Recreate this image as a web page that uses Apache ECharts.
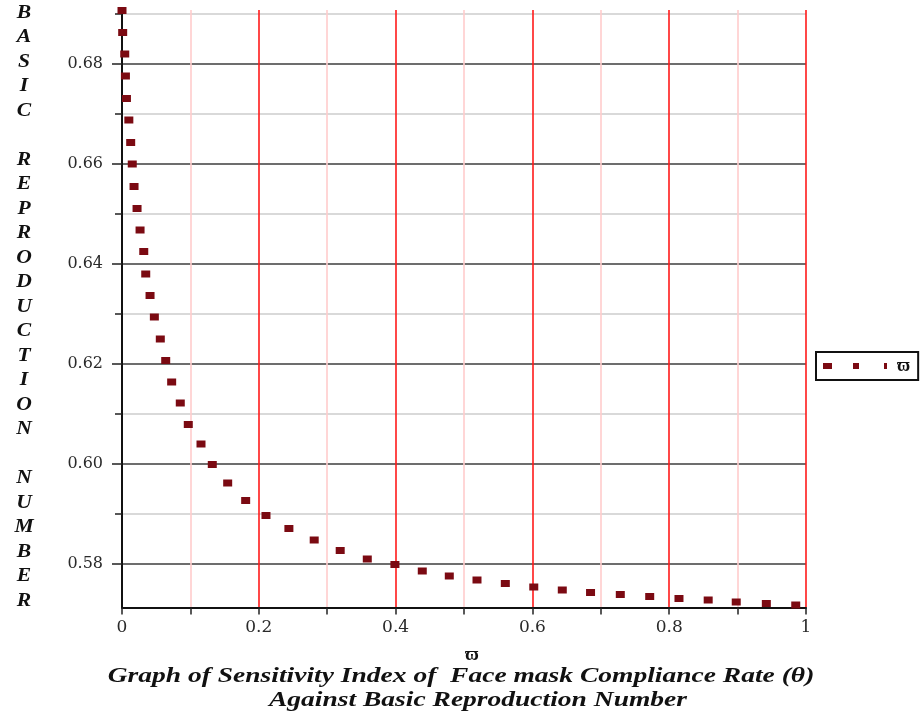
<!DOCTYPE html>
<html>
<head>
<meta charset="utf-8">
<script src="https://cdn.jsdelivr.net/npm/echarts@6/dist/echarts.min.js"></script>
<style>
html,body{margin:0;padding:0;background:#fff;}
#chart{width:924px;height:719px;}
</style>
</head>
<body>
<div id="chart"></div>
<script>
// Data
const omegaValues = [0, 0.001, 0.004, 0.005, 0.0065, 0.010, 0.0127, 0.015, 0.0176, 0.022,
  0.0264, 0.0318, 0.0347, 0.041, 0.0473, 0.056, 0.0639, 0.0726, 0.0852, 0.0969,
  0.1155, 0.132, 0.1545, 0.1808, 0.2105, 0.244, 0.281, 0.319, 0.3586, 0.399,
  0.439, 0.4785, 0.519, 0.5604, 0.602, 0.6437, 0.685, 0.7285, 0.7715, 0.8143,
  0.857, 0.898, 0.942, 0.985];
const r0Values = [0.6907, 0.6863, 0.6820, 0.6776, 0.6731, 0.6688, 0.6643, 0.6600, 0.6555, 0.6511,
  0.6468, 0.6425, 0.6380, 0.6337, 0.6294, 0.6250, 0.6207, 0.6164, 0.6122, 0.6079,
  0.6040, 0.5999, 0.5962, 0.5927, 0.5897, 0.5871, 0.5848, 0.5827, 0.5810, 0.5799,
  0.5786, 0.5776, 0.5768, 0.5761, 0.5754, 0.5748, 0.5743, 0.5739, 0.5735, 0.5731,
  0.5728, 0.5724, 0.5721, 0.5718];
const yMajorTicks = [0.58, 0.60, 0.62, 0.64, 0.66, 0.68];
const yMinorTicks = [0.59, 0.61, 0.63, 0.65, 0.67, 0.69];
const seriesName = 'ϖ';
const yTitle = 'B\nA\nS\nI\nC\n\nR\nE\nP\nR\nO\nD\nU\nC\nT\nI\nO\nN\n\nN\nU\nM\nB\nE\nR';
const titleLine1 = 'Graph of Sensitivity Index of  Face mask Compliance Rate (θ)';
const titleLine2 = 'Against Basic Reproduction Number';

const yMin = 0.5713, yMax = 0.6908;
const serif = '"Liberation Serif", "DejaVu Serif", serif';
const wideSerif = '"DejaVu Serif", serif';

const chart = echarts.init(document.getElementById('chart'), null, {renderer: 'canvas'});
chart.setOption({
  animation: false,
  backgroundColor: '#ffffff',
  grid: {left: 122, right: 118, top: 10, bottom: 111.5, containLabel: false},
  xAxis: {
    type: 'value', min: 0, max: 1, interval: 0.2,
    name: seriesName, nameLocation: 'middle', nameGap: 38,
    nameTextStyle: {fontFamily: serif, fontWeight: 'bold', fontSize: 19, color: '#111', padding: [0, 0, 0, 16]},
    axisLine: {lineStyle: {color: '#111', width: 2}},
    axisTick: {show: true, length: 7, lineStyle: {color: '#222', width: 1.5}},
    minorTick: {show: true, splitNumber: 2, length: 7, lineStyle: {color: '#222', width: 1.5}},
    axisLabel: {fontFamily: wideSerif, fontSize: 17, color: '#2a2a2a', margin: 12},
    splitLine: {show: true, lineStyle: {color: '#ff1a1a', width: 1.6}},
    minorSplitLine: {show: true, lineStyle: {color: '#ffcccc', width: 1.6}}
  },
  yAxis: [{
    type: 'value', min: yMin, max: yMax, position: 'left',
    axisLine: {show: true, lineStyle: {color: '#111', width: 2}},
    axisTick: {show: true, length: 10, customValues: yMajorTicks, lineStyle: {color: '#222', width: 1.5}},
    axisLabel: {customValues: yMajorTicks, fontFamily: wideSerif, fontSize: 16, color: '#2a2a2a', margin: 19,
      formatter: v => v.toFixed(2)},
    splitLine: {show: true, lineStyle: {color: '#3c3c3c', width: 1.6}}
  }, {
    type: 'value', min: yMin, max: yMax, position: 'left',
    axisLine: {show: false},
    axisTick: {show: true, length: 7, customValues: yMinorTicks, lineStyle: {color: '#222', width: 1.5}},
    axisLabel: {show: false},
    splitLine: {show: true, lineStyle: {color: '#cccccc', width: 1.6}}
  }],
  legend: {
    show: true, left: 816, top: 352, orient: 'horizontal',
    padding: [5, 8, 5, 7],
    borderColor: '#111', borderWidth: 2, backgroundColor: '#fff',
    itemWidth: 64, itemHeight: 6, itemGap: 0,
    icon: 'path://M0,0H9V6H0Z M30,0H36V6H30Z M61,0H64V6H61Z',
    textStyle: {fontFamily: serif, fontWeight: 'bold', fontSize: 18, color: '#111', padding: [0, 0, 0, 5]},
    data: [{name: seriesName, itemStyle: {color: '#7b0a12'}}]
  },
  series: [{
    name: seriesName, type: 'scatter', yAxisIndex: 0,
    symbol: 'rect', symbolSize: [9, 7],
    itemStyle: {color: '#7b0a12', opacity: 1},
    clip: false,
    data: omegaValues.map((x, i) => [x, r0Values[i]])
  }],
  graphic: [{
    type: 'text', x: 24, y: 1, scaleX: 1.2,
    style: {text: yTitle, font: 'italic bold 18px ' + serif, fill: '#111', align: 'center', verticalAlign: 'top', lineHeight: 24.5}
  }, {
    type: 'text', x: 461, y: 677, scaleX: 1.31,
    style: {text: titleLine1, font: 'italic bold 21px ' + serif, fill: '#111', align: 'center', verticalAlign: 'middle'}
  }, {
    type: 'text', x: 478, y: 701, scaleX: 1.31,
    style: {text: titleLine2, font: 'italic bold 21px ' + serif, fill: '#111', align: 'center', verticalAlign: 'middle'}
  }]
});
</script>
</body>
</html>
